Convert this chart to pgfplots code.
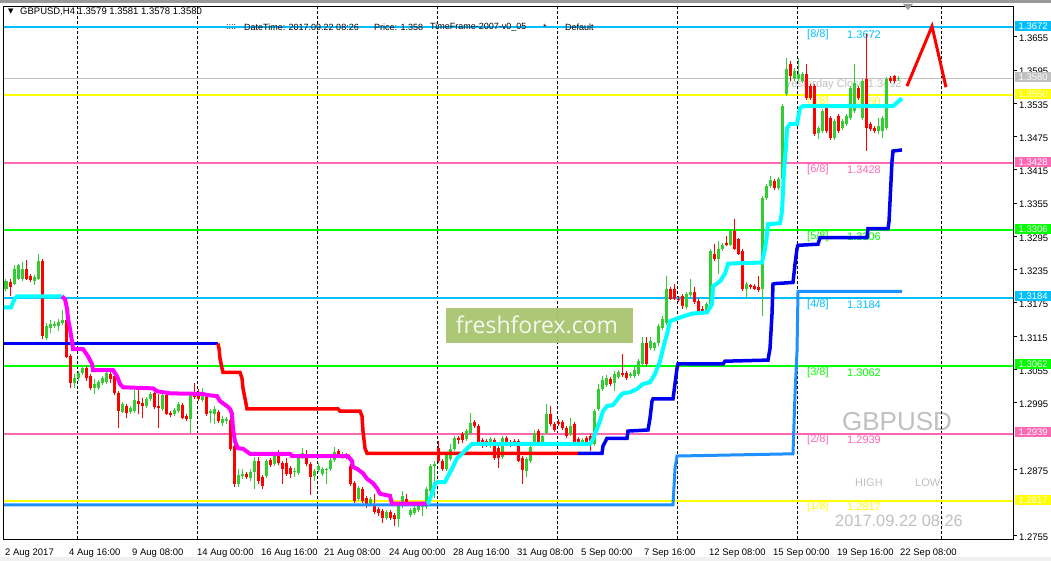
\documentclass[border=0pt]{standalone}
\usepackage{fontspec}
\setmainfont{Liberation Sans}
\newfontfamily\dejavu{DejaVu Sans}
\newfontfamily\opensans{Open Sans}
\usepackage{pgfplots}
\usepackage{pgfplotstable}
\pgfplotsset{compat=1.18}

\definecolor{cgreen}{RGB}{50,205,50}
\definecolor{cred}{RGB}{255,0,0}
\definecolor{dsb}{RGB}{0,191,255}
\definecolor{myellow}{RGB}{255,255,0}
\definecolor{hpink}{RGB}{255,105,180}
\definecolor{mlime}{RGB}{0,255,0}
\definecolor{dodger}{RGB}{30,144,255}
\definecolor{mblue}{RGB}{0,0,240}
\definecolor{silver}{RGB}{192,192,192}
\definecolor{wm}{RGB}{168,197,110}
\definecolor{aqua}{RGB}{0,255,255}
\definecolor{fuchsia}{RGB}{255,0,255}

% candles: x, low, high, body low, body high
\pgfplotstableread{
x l h bl bh
6 1.3196 1.3219 1.3201 1.3214
14 1.3207 1.3243 1.3210 1.3236
18 1.3216 1.3246 1.3219 1.3243
22 1.3214 1.3248 1.3218 1.3236
34 1.3207 1.3225 1.3214 1.3221
38 1.3216 1.3264 1.3219 1.3250
46 1.3108 1.3138 1.3111 1.3133
50 1.3120 1.3144 1.3129 1.3137
54 1.3129 1.3142 1.3133 1.3137
58 1.3124 1.3146 1.3133 1.3140
62 1.3135 1.3162 1.3138 1.3144
74 1.3021 1.3047 1.3030 1.3039
78 1.3034 1.3052 1.3039 1.3048
82 1.3045 1.3059 1.3048 1.3057
94 1.3011 1.3038 1.3021 1.3029
98 1.3018 1.3036 1.3021 1.3032
102 1.3027 1.3043 1.3030 1.3039
106 1.3029 1.3052 1.3032 1.3048
122 1.2976 1.2996 1.2978 1.2993
130 1.2975 1.2989 1.2978 1.2985
134 1.2976 1.3020 1.2980 1.3000
146 1.2985 1.3005 1.2989 1.3002
150 1.2998 1.3014 1.3002 1.3011
162 1.2980 1.3012 1.2984 1.3009
174 1.2971 1.2985 1.2975 1.2982
178 1.2976 1.2996 1.2980 1.2993
190 1.2940 1.3014 1.2966 1.3011
202 1.2996 1.3021 1.3000 1.3007
210 1.2958 1.2984 1.2976 1.2980
214 1.2957 1.2989 1.2975 1.2984
222 1.2953 1.2971 1.2958 1.2966
226 1.2957 1.2969 1.2962 1.2966
238 1.2843 1.2876 1.2849 1.2865
242 1.2858 1.2876 1.2863 1.2867
250 1.2854 1.2876 1.2859 1.2870
254 1.2840 1.2897 1.2870 1.2890
266 1.2859 1.2894 1.2863 1.2890
274 1.2881 1.2904 1.2885 1.2899
294 1.2861 1.2877 1.2870 1.2872
298 1.2865 1.2903 1.2868 1.2899
302 1.2894 1.2913 1.2897 1.2904
314 1.2854 1.2876 1.2863 1.2872
318 1.2870 1.2886 1.2874 1.2881
322 1.2863 1.2879 1.2867 1.2876
326 1.2849 1.2877 1.2874 1.2876
330 1.2872 1.2895 1.2876 1.2892
334 1.2888 1.2915 1.2892 1.2906
342 1.2894 1.2906 1.2897 1.2903
358 1.2818 1.2845 1.2822 1.2841
370 1.2809 1.2825 1.2813 1.2822
386 1.2784 1.2802 1.2787 1.2798
398 1.2771 1.2813 1.2786 1.2809
402 1.2805 1.2836 1.2809 1.2827
410 1.2789 1.2805 1.2793 1.2802
414 1.2793 1.2809 1.2796 1.2805
418 1.2798 1.2813 1.2802 1.2809
422 1.2791 1.2818 1.2807 1.2809
426 1.2804 1.2843 1.2807 1.2840
430 1.2832 1.2885 1.2836 1.2881
434 1.2823 1.2890 1.2881 1.2885
446 1.2872 1.2904 1.2876 1.2901
450 1.2890 1.2921 1.2894 1.2912
454 1.2908 1.2935 1.2912 1.2931
466 1.2926 1.2948 1.2930 1.2944
470 1.2937 1.2976 1.2940 1.2958
490 1.2913 1.2933 1.2921 1.2930
502 1.2894 1.2935 1.2897 1.2931
526 1.2861 1.2897 1.2872 1.2894
530 1.2886 1.2921 1.2890 1.2915
534 1.2917 1.2946 1.2922 1.2940
542 1.2921 1.2939 1.2924 1.2935
546 1.2937 1.2993 1.2940 1.2975
570 1.2935 1.2967 1.2939 1.2953
582 1.2919 1.2931 1.2922 1.2928
594 1.2917 1.2984 1.2921 1.2980
598 1.2980 1.3029 1.2984 1.3020
602 1.3016 1.3043 1.3020 1.3036
606 1.3023 1.3045 1.3027 1.3039
614 1.3016 1.3052 1.3030 1.3047
618 1.3038 1.3054 1.3041 1.3050
630 1.3039 1.3050 1.3043 1.3047
634 1.3039 1.3059 1.3043 1.3054
638 1.3043 1.3074 1.3047 1.3070
642 1.3061 1.3113 1.3065 1.3102
650 1.3090 1.3113 1.3093 1.3106
654 1.3088 1.3104 1.3093 1.3102
658 1.3097 1.3137 1.3102 1.3133
662 1.3126 1.3151 1.3129 1.3147
666 1.3135 1.3223 1.3138 1.3200
686 1.3164 1.3194 1.3167 1.3191
690 1.3185 1.3219 1.3189 1.3194
706 1.3156 1.3176 1.3160 1.3173
710 1.3169 1.3272 1.3173 1.3268
718 1.3227 1.3286 1.3254 1.3273
722 1.3268 1.3284 1.3272 1.3280
730 1.3277 1.3309 1.3280 1.3306
746 1.3182 1.3212 1.3201 1.3209
762 1.3151 1.3368 1.3200 1.3364
766 1.3361 1.3390 1.3364 1.3386
770 1.3382 1.3404 1.3386 1.3397
778 1.3379 1.3402 1.3382 1.3399
782 1.3395 1.3534 1.3399 1.3530
786 1.3548 1.3616 1.3552 1.3597
794 1.3575 1.3598 1.3579 1.3593
798 1.3575 1.3616 1.3579 1.3588
802 1.3571 1.3591 1.3575 1.3588
818 1.3471 1.3494 1.3481 1.3490
822 1.3481 1.3525 1.3485 1.3521
834 1.3469 1.3507 1.3472 1.3503
842 1.3487 1.3507 1.3490 1.3503
846 1.3494 1.3516 1.3498 1.3512
850 1.3505 1.3566 1.3508 1.3562
854 1.3517 1.3606 1.3521 1.3571
862 1.3505 1.3579 1.3508 1.3575
878 1.3480 1.3508 1.3485 1.3494
882 1.3472 1.3512 1.3485 1.3508
886 1.3487 1.3582 1.3490 1.3579
898 1.3575 1.3584 1.3579 1.3580
}\upcandles

\pgfplotstableread{
x l h bl bh
10 1.3187 1.3218 1.3203 1.3212
26 1.3216 1.3252 1.3219 1.3236
30 1.3212 1.3228 1.3216 1.3223
42 1.3110 1.3255 1.3115 1.3250
66 1.3075 1.3146 1.3077 1.3144
70 1.3021 1.3083 1.3030 1.3079
86 1.3034 1.3061 1.3039 1.3057
90 1.3018 1.3047 1.3021 1.3043
110 1.3030 1.3050 1.3038 1.3047
114 1.3009 1.3047 1.3012 1.3043
118 1.2949 1.3016 1.2980 1.3012
126 1.2967 1.2993 1.2976 1.2989
138 1.2975 1.3020 1.2993 1.2998
142 1.2967 1.3003 1.2989 1.2994
154 1.2984 1.3016 1.2987 1.3012
158 1.2949 1.3011 1.2985 1.2989
166 1.2973 1.3012 1.2975 1.3009
170 1.2969 1.2980 1.2973 1.2976
182 1.2966 1.2994 1.2967 1.2991
186 1.2962 1.2975 1.2966 1.2971
194 1.3002 1.3030 1.3005 1.3012
198 1.2998 1.3020 1.3002 1.3012
206 1.2971 1.3009 1.2975 1.3005
218 1.2958 1.2982 1.2962 1.2978
230 1.2908 1.2967 1.2912 1.2964
234 1.2843 1.2921 1.2849 1.2917
246 1.2858 1.2870 1.2861 1.2867
258 1.2849 1.2897 1.2854 1.2890
262 1.2840 1.2865 1.2845 1.2861
270 1.2879 1.2895 1.2883 1.2892
278 1.2883 1.2910 1.2886 1.2906
282 1.2849 1.2890 1.2876 1.2886
286 1.2863 1.2895 1.2867 1.2886
290 1.2859 1.2881 1.2867 1.2877
306 1.2881 1.2910 1.2885 1.2903
310 1.2829 1.2888 1.2861 1.2885
338 1.2897 1.2912 1.2901 1.2908
346 1.2894 1.2904 1.2897 1.2901
350 1.2845 1.2885 1.2849 1.2881
354 1.2814 1.2854 1.2818 1.2850
362 1.2814 1.2843 1.2818 1.2840
366 1.2805 1.2827 1.2811 1.2823
374 1.2795 1.2831 1.2798 1.2809
378 1.2791 1.2807 1.2796 1.2804
382 1.2778 1.2804 1.2787 1.2800
390 1.2784 1.2802 1.2787 1.2798
394 1.2773 1.2796 1.2786 1.2793
406 1.2809 1.2831 1.2813 1.2822
438 1.2886 1.2926 1.2890 1.2913
442 1.2872 1.2894 1.2876 1.2890
458 1.2921 1.2935 1.2928 1.2931
462 1.2922 1.2942 1.2928 1.2939
474 1.2949 1.2964 1.2953 1.2960
478 1.2919 1.2957 1.2922 1.2953
482 1.2913 1.2931 1.2921 1.2928
486 1.2915 1.2930 1.2921 1.2926
494 1.2892 1.2931 1.2895 1.2928
498 1.2877 1.2917 1.2895 1.2913
506 1.2919 1.2935 1.2922 1.2931
510 1.2915 1.2928 1.2921 1.2924
514 1.2917 1.2930 1.2921 1.2926
518 1.2888 1.2930 1.2890 1.2926
522 1.2849 1.2899 1.2874 1.2895
538 1.2919 1.2948 1.2922 1.2944
550 1.2953 1.2989 1.2957 1.2975
554 1.2942 1.2960 1.2946 1.2957
558 1.2953 1.2966 1.2957 1.2960
562 1.2946 1.2964 1.2949 1.2960
566 1.2931 1.2953 1.2935 1.2949
574 1.2919 1.2960 1.2922 1.2957
578 1.2917 1.2933 1.2922 1.2930
586 1.2917 1.2935 1.2921 1.2931
590 1.2908 1.2939 1.2921 1.2935
610 1.3025 1.3041 1.3029 1.3038
622 1.3041 1.3083 1.3045 1.3048
626 1.3036 1.3052 1.3039 1.3048
646 1.3061 1.3113 1.3065 1.3102
670 1.3180 1.3203 1.3183 1.3200
674 1.3180 1.3209 1.3183 1.3200
678 1.3176 1.3187 1.3180 1.3183
682 1.3165 1.3191 1.3169 1.3187
694 1.3173 1.3203 1.3176 1.3194
698 1.3156 1.3182 1.3160 1.3178
702 1.3156 1.3169 1.3160 1.3165
714 1.3250 1.3282 1.3254 1.3264
726 1.3277 1.3295 1.3280 1.3284
734 1.3270 1.3327 1.3273 1.3304
738 1.3261 1.3293 1.3264 1.3290
742 1.3196 1.3272 1.3200 1.3268
750 1.3200 1.3210 1.3203 1.3207
754 1.3198 1.3209 1.3201 1.3205
758 1.3194 1.3223 1.3198 1.3203
774 1.3379 1.3399 1.3382 1.3395
790 1.3575 1.3611 1.3584 1.3606
806 1.3541 1.3606 1.3544 1.3588
810 1.3541 1.3570 1.3544 1.3566
814 1.3476 1.3570 1.3480 1.3566
826 1.3481 1.3534 1.3485 1.3530
830 1.3469 1.3512 1.3472 1.3508
838 1.3481 1.3516 1.3485 1.3512
858 1.3541 1.3566 1.3544 1.3562
866 1.3449 1.3660 1.3490 1.3579
870 1.3485 1.3501 1.3489 1.3498
874 1.3481 1.3494 1.3485 1.3490
890 1.3571 1.3584 1.3575 1.3580
894 1.3571 1.3586 1.3575 1.3584
}\downcandles

\pgfplotsset{candle/.style={draw=none, mark=none, forget plot,
  error bars/.cd, y dir=plus, y explicit, error mark=none,
  error bar style={draw=#1}}}

\begin{document}
\begin{tikzpicture}[x=1pt,y=1pt]
\fill[white] (0,0) rectangle (1051,561);
\fill[black!40] (0,558) rectangle (1051,561);
\fill[black!6] (0,0) rectangle (1051,4);

% background texts (behind the bars)
\begin{scope}[font=\fontsize{11}{12}\selectfont, inner sep=0pt]
\node[anchor=west, text=silver] at (785,476) {Yesterday Close 1.3492};
\node[anchor=west, text=dsb] at (807,526) {[8/8]};   \node[anchor=west, text=dsb] at (847,526) {1.3672};
\node[anchor=west, text=myellow] at (807,459) {[7/8]}; \node[anchor=west, text=myellow] at (847,459) {1.3550};
\node[anchor=west, text=hpink] at (807,391) {[6/8]}; \node[anchor=west, text=hpink] at (847,391) {1.3428};
\node[anchor=west, text=mlime] at (807,324) {[5/8]}; \node[anchor=west, text=mlime] at (847,324) {1.3306};
\node[anchor=west, text=dsb] at (807,256) {[4/8]};   \node[anchor=west, text=dsb] at (847,256) {1.3184};
\node[anchor=west, text=mlime] at (807,188) {[3/8]}; \node[anchor=west, text=mlime] at (847,188) {1.3062};
\node[anchor=west, text=hpink] at (807,121) {[2/8]}; \node[anchor=west, text=hpink] at (847,121) {1.2939};
\node[anchor=west, text=myellow] at (807,54) {[1/8]}; \node[anchor=west, text=myellow] at (847,54) {1.2817};
\node[anchor=west, text=silver] at (855,78) {HIGH};
\node[anchor=west, text=silver] at (915,78) {LOW};
\node[text=silver, font=\fontsize{26}{28}\selectfont] at (897,139) {GBPUSD};
\node[text=silver, font=\fontsize{16.4}{18}\selectfont] at (899,40) {2017.09.22 08:26};
\end{scope}

\begin{axis}[
  at={(4,39)}, anchor=south west,
  scale only axis, width=1009pt, height=533pt,
  xmin=4, xmax=1013, ymin=1.27487, ymax=1.37099,
  axis line style={black, line width=1pt},
  xtick={5,69,132,197,261,324,389,453,517,581,644,709,773,837,900},
  xticklabels={2 Aug 2017, 4 Aug 16:00, 9 Aug 08:00, 14 Aug 00:00, 16 Aug 16:00, 21 Aug 08:00, 24 Aug 00:00, 28 Aug 16:00, 31 Aug 08:00, 5 Sep 00:00, 7 Sep 16:00, 12 Sep 08:00, 15 Sep 00:00, 19 Sep 16:00, 22 Sep 08:00},
  xticklabel style={anchor=north west, inner sep=0pt, yshift=-5pt, font=\fontsize{9.5}{10}\selectfont},
  x tick style={draw=none},
  extra x ticks={77,197,317,437,557,677,797,941},
  extra x tick labels={},
  extra x tick style={grid=major, major grid style={black, line width=1pt, dash pattern=on 3pt off 2pt}},
  ytick={1.2755,1.2875,1.2995,1.3055,1.3115,1.3175,1.3235,1.3295,1.3355,1.3415,1.3475,1.3535,1.3595,1.3655},
  ytick pos=right, yticklabel pos=right,
  tick align=outside, major tick length=4pt,
  y tick style={black, line width=1pt},
  scaled y ticks=false,
  yticklabel style={anchor=west, inner sep=0pt, xshift=2pt, yshift=-1.5pt, font=\fontsize{9.5}{10}\selectfont,
    /pgf/number format/.cd, fixed, fixed zerofill, precision=4, assume math mode=true},
]
% Murrey math levels
\addplot[dsb, line width=2pt] coordinates {(4,1.3672) (1013,1.3672)};
\addplot[silver, line width=1pt] coordinates {(4,1.3580) (1013,1.3580)};
\addplot[myellow, line width=2pt] coordinates {(4,1.3550) (1013,1.3550)};
\addplot[hpink, line width=2pt] coordinates {(4,1.3428) (1013,1.3428)};
\addplot[mlime, line width=2pt] coordinates {(4,1.3306) (1013,1.3306)};
\addplot[dsb, line width=2pt] coordinates {(4,1.3184) (1013,1.3184)};
\addplot[mlime, line width=2pt] coordinates {(4,1.3062) (1013,1.3062)};
\addplot[hpink, line width=2pt] coordinates {(4,1.2939) (1013,1.2939)};
\addplot[myellow, line width=2pt] coordinates {(4,1.2817) (1013,1.2817)};

% candles: wicks and bodies
\addplot[candle={cgreen, line width=1pt}] table[x=x, y=l, y error expr=\thisrow{h}-\thisrow{l}] {\upcandles};
\addplot[candle={cgreen, line width=3pt}] table[x=x, y=bl, y error expr=\thisrow{bh}-\thisrow{bl}] {\upcandles};
\addplot[candle={cred, line width=1pt}] table[x=x, y=l, y error expr=\thisrow{h}-\thisrow{l}] {\downcandles};
\addplot[candle={cred, line width=3pt}] table[x=x, y=bl, y error expr=\thisrow{bh}-\thisrow{bl}] {\downcandles};

% dodger blue step line
\addplot[dodger, line width=3pt] coordinates {(4,1.2811) (673,1.2811) (675,1.2877) (677,1.2899) (793,1.2903) (795,1.3011) (797,1.3088) (798,1.3196) (902,1.3196)};

% blue / red step line
\addplot[mblue, line width=3.5pt] coordinates {(4,1.3102) (218,1.3102)};
\addplot[cred, line width=3.5pt] coordinates {(218,1.3102) (219,1.3093) (220,1.3075) (222,1.3057) (223,1.3050) (240,1.3050) (242,1.3039) (243,1.3021) (245,1.3003) (247,1.2984) (338,1.2984) (340,1.2980) (360,1.2980) (362,1.2971) (363,1.2944) (365,1.2913) (367,1.2904) (578,1.2904)};
\addplot[mblue, line width=3.5pt] coordinates {(578,1.2904) (602,1.2904) (603,1.2917) (607,1.2931) (627,1.2931) (628,1.2944) (648,1.2946) (650,1.2967) (652,1.2998) (653,1.3002) (673,1.3002) (677,1.3057) (678,1.3065) (723,1.3065) (725,1.3070) (768,1.3072) (770,1.3093) (772,1.3155) (773,1.3209) (775,1.3210) (793,1.3212) (795,1.3245) (797,1.3273) (798,1.3279) (818,1.3281) (820,1.3293) (867,1.3293) (868,1.3309) (888,1.3309) (889,1.3322) (890,1.3358) (892,1.3431) (893,1.3449) (902,1.3451)};

% cyan / magenta trailing line
\addplot[aqua, line width=4pt] coordinates {(4,1.3167) (11,1.3167) (13,1.3176) (15,1.3183) (17,1.3187) (62,1.3187)};
\addplot[fuchsia, line width=4pt] coordinates {(62,1.3187) (65,1.3182) (67,1.3165) (68,1.3147) (70,1.3128) (72,1.3106) (73,1.3092) (83,1.3092) (88,1.3079) (92,1.3065) (93,1.3054) (113,1.3054) (117,1.3043) (120,1.3029) (123,1.3023) (153,1.3021) (157,1.3016) (170,1.3012) (203,1.3011) (207,1.3009) (217,1.3007) (220,1.2998) (227,1.2989) (230,1.2984) (232,1.2975) (233,1.2948) (235,1.2925) (238,1.2913) (243,1.2912) (250,1.2903) (290,1.2903) (292,1.2899) (348,1.2899) (352,1.2890) (353,1.2879) (357,1.2876) (363,1.2868) (367,1.2858) (373,1.2850) (377,1.2841) (380,1.2831) (390,1.2827) (392,1.2813) (427,1.2813)};
\addplot[aqua, line width=4pt] coordinates {(427,1.2813) (428,1.2814) (432,1.2831) (435,1.2849) (438,1.2852) (445,1.2852) (448,1.2863) (452,1.2876) (457,1.2895) (462,1.2903) (467,1.2912) (472,1.2921) (590,1.2921) (593,1.2930) (597,1.2948) (600,1.2962) (603,1.2980) (607,1.2989) (613,1.2991) (620,1.3007) (623,1.3012) (630,1.3014) (637,1.3020) (643,1.3029) (650,1.3032) (655,1.3047) (660,1.3070) (663,1.3093) (667,1.3119) (670,1.3142) (677,1.3147) (687,1.3153) (693,1.3156) (707,1.3158) (712,1.3173) (713,1.3205) (720,1.3214) (725,1.3228) (728,1.3246) (762,1.3248) (765,1.3273) (767,1.3299) (768,1.3317) (780,1.3319) (782,1.3340) (783,1.3377) (784,1.3413) (786,1.3458) (787,1.3490) (790,1.3498) (797,1.3498) (800,1.3526) (803,1.3530) (893,1.3530) (902,1.3544)};

% forecast line
\addplot[cred, line width=3pt] coordinates {(907,1.3566) (932,1.3674) (946,1.3564)};
\end{axis}

% watermark
\fill[wm, opacity=0.95] (446,218) rectangle (633,253);
\node[text=white, opacity=0.9, font=\opensans\fontsize{23}{24}\selectfont] at (537,236) {freshforex.com};

% price boxes on the right scale
\begin{scope}[font=\fontsize{9.5}{10}\selectfont, text=white, inner sep=0pt, minimum width=36pt, minimum height=10pt]
\node[fill=dsb, anchor=west] at (1015,535) {1.3672};
\node[fill=silver, anchor=west] at (1015,484) {1.3580};
\node[fill=myellow, anchor=west] at (1015,467) {1.3550};
\node[fill=hpink, anchor=west] at (1015,399) {1.3428};
\node[fill=mlime, anchor=west] at (1015,332) {1.3306};
\node[fill=dsb, anchor=west] at (1015,265) {1.3184};
\node[fill=mlime, anchor=west] at (1015,197) {1.3062};
\node[fill=hpink, anchor=west] at (1015,129) {1.2939};
\node[fill=myellow, anchor=west] at (1015,61) {1.2817};
\end{scope}

% header
\node[anchor=west, inner sep=0pt, font=\dejavu\fontsize{7}{8}\selectfont] at (8,549) {▼};
\node[anchor=west, inner sep=0pt, font=\fontsize{9.5}{10}\selectfont] at (20,549) {GBPUSD,H4 1.3579 1.3581 1.3578 1.3580};
\begin{scope}[font=\fontsize{9}{10}\selectfont, inner sep=0pt]
\node[anchor=west] at (226,534) {::::};
\node[anchor=west] at (244,534) {DateTime: 2017.09.22 08:26};
\node[anchor=west] at (374,534) {Price: 1.358};
\node[anchor=west] at (430,534) {TimeFrame-2007-v0\_05};
\node[anchor=west] at (543,534) {*};
\node[anchor=west] at (565,534) {Default};
\end{scope}
\fill[black!40] (903,557) -- (913,557) -- (908,551) -- cycle;
\pgfresetboundingbox
\useasboundingbox (0,0) rectangle (1051,561);
\end{tikzpicture}
\end{document}
